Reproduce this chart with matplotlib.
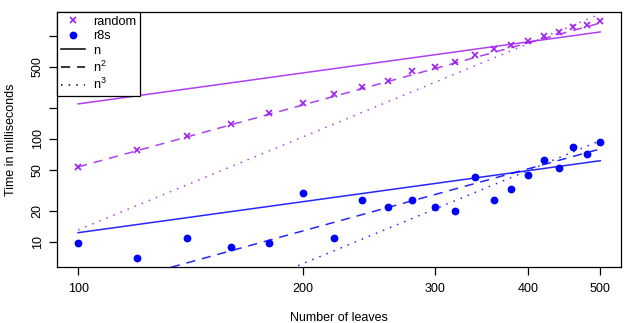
import numpy as np
import matplotlib
matplotlib.use("Agg")
import matplotlib.pyplot as plt
from matplotlib.lines import Line2D
from matplotlib.ticker import NullLocator

plt.rcParams['font.family'] = ['Liberation Sans', 'DejaVu Sans']
plt.rcParams['mathtext.fontset'] = 'custom'
plt.rcParams['mathtext.rm'] = 'Liberation Sans'
plt.rcParams['mathtext.it'] = 'Liberation Sans:italic'

# data
leaves = [100, 120, 140, 160, 180, 200, 220, 240, 260, 280, 300,
          320, 340, 360, 380, 400, 420, 440, 460, 480, 500]
random_ms = [53.8, 78.2, 107.6, 139, 180, 225, 273, 318, 368, 454, 504,
             563, 654, 753, 824, 894, 993, 1101, 1231, 1279, 1399]
r8s_ms = [9.8, 6.95, 10.9, 8.9, 9.8, 29.7, 10.9, 25.6, 21.7, 25.6, 21.7,
          19.9, 42.5, 25.6, 32.5, 44.5, 63.0, 51.9, 83.6, 71.4, 94.2]

# fitted coefficients for c * n^k, k = 1, 2, 3
random_fit = [2.19, 5.35e-3, 1.31e-5]
r8s_fit = [0.123, 3.2e-4, 7.7e-7]
powers = [1, 2, 3]

xticks = [100, 200, 300, 400, 500]
yticks = [10, 20, 50, 100, 200, 500, 1000]
yticklabels = ['10', '20', '50', '100', '', '500', '']

purple = '#A020F0'
blue = '#0000FF'
styles = ['-', (0, (6, 4.5)), (0, (1, 4))]

fig = plt.figure(figsize=(6.24, 3.23), dpi=100)
ax = fig.add_axes([57 / 624, 56 / 323, 564 / 624, 255 / 323])
ax.set_xscale('log')
ax.set_yscale('log')

n = np.array(leaves, dtype=float)
ax.plot(leaves, random_ms, 'x', color=purple, ms=5, mew=1.2)
ax.plot(leaves, r8s_ms, 'o', color=blue, ms=4.6, mec=blue)
for k, c, ls in zip(powers, random_fit, styles):
    ax.plot(n, c * n ** k, color=purple, lw=1.1, ls=ls, alpha=0.85)
for k, c, ls in zip(powers, r8s_fit, styles):
    ax.plot(n, c * n ** k, color=blue, lw=1.1, ls=ls, alpha=0.85)

ax.set_xlim(93.7, 533)
ax.set_ylim(5.71, 1710)
ax.set_xticks(xticks)
ax.set_xticklabels([str(t) for t in xticks])
ax.set_yticks(yticks)
ax.set_yticklabels(yticklabels, rotation=90, va='center')
ax.xaxis.set_minor_locator(NullLocator())
ax.yaxis.set_minor_locator(NullLocator())
ax.tick_params(direction='out', length=5.5, width=0.9, labelsize=9)
ax.tick_params(axis='x', pad=6)
ax.tick_params(axis='y', pad=4)
for s in ax.spines.values():
    s.set_linewidth(0.9)

ax.set_xlabel('Number of leaves', fontsize=9, va='center')
ax.xaxis.set_label_coords(0.5, -0.2)
ax.set_ylabel('Time in milliseconds', fontsize=9, va='center')
ax.yaxis.set_label_coords(-0.082, 0.5)

handles = [
    Line2D([], [], ls='none', marker='x', color=purple, ms=5, mew=1.2),
    Line2D([], [], ls='none', marker='o', color=blue, ms=4.6),
    Line2D([], [], color='black', lw=1.1, ls=styles[0]),
    Line2D([], [], color='black', lw=1.1, ls=styles[1]),
    Line2D([], [], color='black', lw=1.1, ls=styles[2]),
]
labels = ['random', 'r8s', 'n', 'n$^2$', 'n$^3$']
leg = ax.legend(handles, labels, loc='upper left', borderaxespad=0,
                fancybox=False, edgecolor='black', framealpha=1,
                fontsize=9.2, handlelength=1.9, handletextpad=0.6,
                labelspacing=0.2, borderpad=0.3)
leg.get_frame().set_linewidth(0.9)

fig.savefig('out.png', dpi=100)
